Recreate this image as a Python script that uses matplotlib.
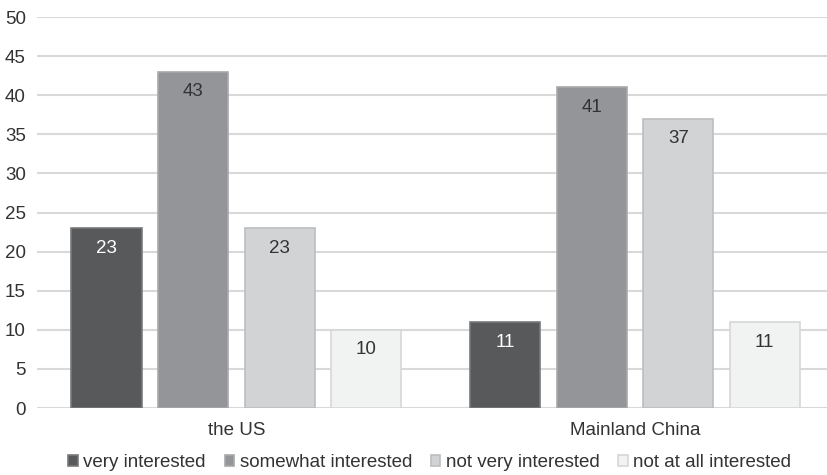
import numpy as np
import matplotlib
matplotlib.use("Agg")
import matplotlib.pyplot as plt

plt.rcParams['font.family'] = ['Liberation Sans', 'DejaVu Sans']

regions = ['the US', 'Mainland China']
levels = ['very interested', 'somewhat interested', 'not very interested', 'not at all interested']
very = [23, 11]
somewhat = [43, 41]
not_very = [23, 37]
not_at_all = [10, 11]

series = [very, somewhat, not_very, not_at_all]
fills = ['#58595b', '#939598', '#d1d3d4', '#f1f2f2']
edges = ['#78797b', '#a7a9ab', '#bcbec0', '#d6d7d8']
text_cols = ['white', '#333333', '#333333', '#333333']
fs = 13.5

fig = plt.figure(figsize=(8.28, 4.75), dpi=100)
ax = fig.add_axes([0.0447, 0.141, 0.9553, 0.823])

x = np.arange(len(regions))
step = 0.217
width = 0.176
for i, (vals, fc, ec, tc, name) in enumerate(zip(series, fills, edges, text_cols, levels)):
    pos = x + (i - 1.5) * step
    bars = ax.bar(pos, vals, width, color=fc, edgecolor=ec, linewidth=1.2,
                  label=name, zorder=3)
    # value labels just under the top of each bar
    for b, v in zip(bars, vals):
        ax.annotate(str(v), (b.get_x() + b.get_width() / 2, v),
                    xytext=(0, -20), textcoords='offset pixels',
                    ha='center', va='center', fontsize=fs, color=tc, zorder=4)

ax.set_xlim(-0.5, 1.484)
ax.set_ylim(0, 50)
ax.set_yticks(range(0, 51, 5))
ax.yaxis.grid(True, color='#d9d9d9', linewidth=1.5, zorder=0)
ax.set_axisbelow(True)
for s in ax.spines.values():
    s.set_visible(False)
ax.tick_params(axis='both', length=0, labelsize=fs, colors='#333333')
ax.tick_params(axis='y', pad=8)
ax.tick_params(axis='x', pad=10)
ax.set_xticks(x)
ax.set_xticklabels(regions)

fig.legend(loc='lower center', bbox_to_anchor=(0.519, -0.028), ncol=4, frameon=False,
           fontsize=fs, handlelength=0.5, handleheight=0.5, handletextpad=0.3,
           columnspacing=1.0, labelcolor='#333333')

fig.savefig('out.png', dpi=100)
